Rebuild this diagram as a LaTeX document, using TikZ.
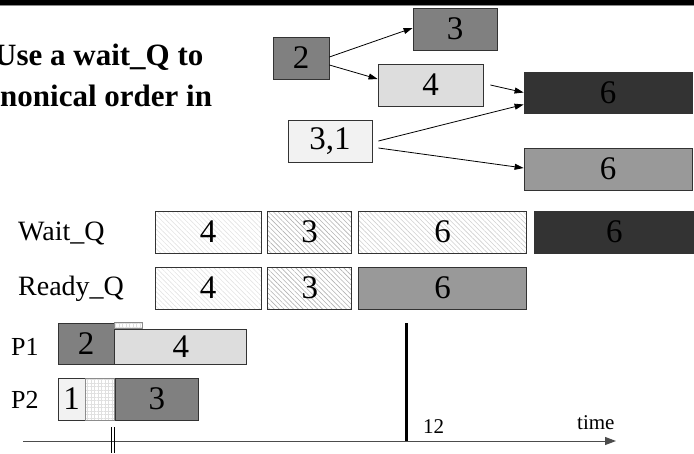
\documentclass[tikz,border=0pt]{standalone}
\usepackage{fontspec}
\setmainfont{Liberation Serif}
\usepackage{tikz}
\usetikzlibrary{arrows.meta,positioning,patterns.meta}

\definecolor{jobgray}{HTML}{808080}
\definecolor{jobdark}{HTML}{333333}
\definecolor{joblight}{HTML}{DDDDDD}
\definecolor{jobpale}{HTML}{F2F2F2}
\definecolor{jobmid}{HTML}{999999}

\begin{document}
\begin{tikzpicture}[
  x=1pt, y=-1pt,
  box/.style={draw=black!80, line width=0.8pt, inner sep=0pt, minimum height=42pt,
    font=\fontsize{33}{33}\selectfont},
  hatch/.style={box, pattern={Lines[angle=-45,distance=3.4pt,line width=0.6pt]}, pattern color=#1},
  gridbox/.style={draw=black!45, line width=0.5pt, inner sep=0pt,
    pattern={Hatch[angle=0,distance=3.5pt,line width=0.3pt]}, pattern color=black!12},
  rowlab/.style={anchor=west, inner sep=0pt, font=\fontsize{28}{28}\selectfont},
  proclab/.style={anchor=west, inner sep=0pt, font=\fontsize{26}{26}\selectfont},
  title/.style={anchor=base west, inner sep=0pt, font=\bfseries\fontsize{31}{31}\selectfont},
  arrow/.style={-{Triangle[length=9pt,width=6pt]}, line width=0.8pt},
]
\clip (0,0) rectangle (694,453);

% header band
\fill (0,0) rectangle (694,5);
\draw[black!45, line width=1pt] (0,5.5) -- (694,5.5);

\node[title] (head1) at (-6,65) {Use a wait\_Q to};
\node[title] (head2) at (0,106) {nonical order in};

% jobs and their successors
\node[box, fill=jobgray, minimum width=56pt] (job2) at (301,58) {2};
\node[box, fill=jobgray, minimum width=84pt] (job3) at (455,29) {3};
\node[box, fill=joblight, minimum width=105pt] (job4) at (430.5,85) {4};
\node[box, fill=jobdark, minimum width=168pt, minimum height=41pt] (job6d) at (608,92.5) {6};
\node[box, fill=jobpale, minimum width=84pt] (job31) at (330,141) {3,1};
\node[box, fill=jobmid, minimum width=168pt] (job6) at (608,169) {6};

\draw[arrow] ([yshift=1pt]job2.east) -- ([yshift=1pt]job3.west);
\draw[arrow] ([yshift=-7pt]job2.east) -- ([yshift=6pt]job4.west);
\draw[arrow] ([xshift=7pt]job4.east) -- (job6d.west);
\draw[arrow] ([xshift=6pt]job31.east) -- ([yshift=-12pt]job6d.west);
\draw[arrow] ([xshift=6pt,yshift=-7pt]job31.east) -- ([yshift=1pt]job6.west);

% queues
\node[rowlab] (waitq) at (18,233) {Wait\_Q};
\node[hatch=black!11, minimum width=106pt] (w4) at (208,232) {4};
\node[hatch=black!30, minimum width=84pt, right=6pt of w4] (w3) {3};
\node[hatch=black!19, minimum width=168pt, right=6pt of w3] (w6) {6};
\node[box, fill=jobdark, minimum width=160pt, right=7pt of w6] (w6d) {6};

\node[rowlab] (readyq) at (18,289) {Ready\_Q};
\node[hatch=black!11, minimum width=106pt] (r4) at (208,288) {4};
\node[hatch=black!30, minimum width=84pt, right=6pt of r4] (r3) {3};
\node[box, fill=jobmid, minimum width=168pt, right=6pt of r3] (r6) {6};

% processors
\node[proclab] (p1) at (11,347) {P1};
\node[box, fill=jobgray, minimum width=56pt, minimum height=41pt] (p1a) at (86,343.5) {2};
\node[box, fill=joblight, minimum width=132pt, minimum height=35pt, anchor=south west] (p1b) at (p1a.south east) {4};
\node[gridbox, minimum width=28pt, minimum height=6pt, anchor=south west] (p1gap) at (p1b.north west) {};

\node[proclab] (p2) at (11,400) {P2};
\node[box, fill=jobpale, minimum width=27pt] (p2a) at (71.5,399) {1};
\node[gridbox, minimum width=29pt, minimum height=42pt, right=0pt of p2a] (p2gap) {};
\node[box, fill=jobgray, minimum width=83pt, right=0pt of p2gap] (p2b) {3};

% time axis
\coordinate (t0) at (23,441);
\coordinate (tend) at (616,441);
\coordinate (mark) at (406,323);
\draw[black!70, line width=1pt, -{Triangle[length=11pt,width=8pt]}] (t0) -- (tend);
\draw[line width=3pt] (mark) -- (mark |- t0);
\node[anchor=base west, inner sep=0pt, font=\fontsize{21}{21}\selectfont] (twelve) at (423,433) {12};
\node[anchor=base west, inner sep=0pt, font=\fontsize{21}{21}\selectfont] (timelab) at (577,429) {time};

% break in the axis
\draw[line width=1.3pt] (111.5,427) -- (111.5,453);
\draw[line width=1.3pt] (114.5,427) -- (114.5,453);
\end{tikzpicture}
\end{document}
